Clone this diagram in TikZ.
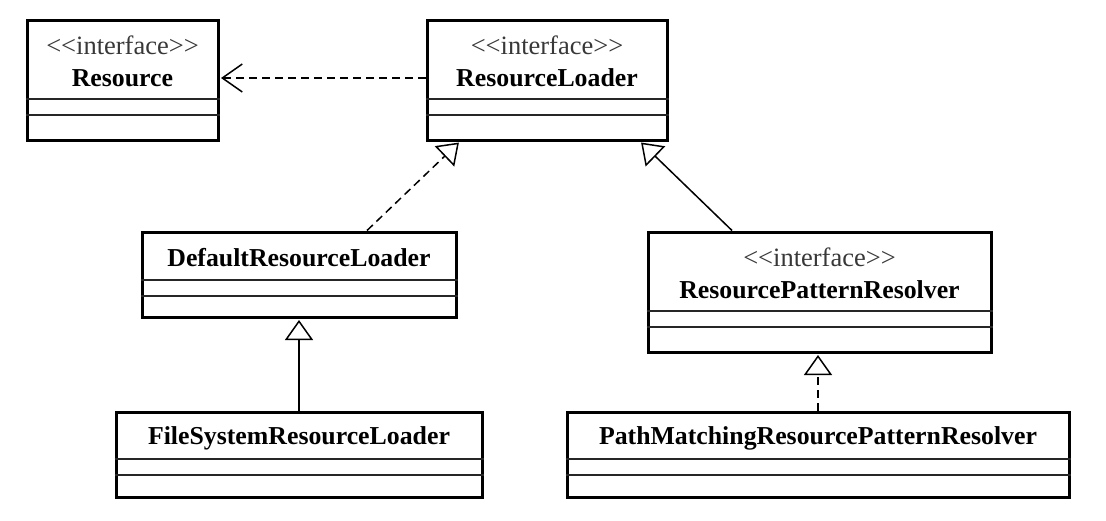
\documentclass[tikz,border=0pt]{standalone}
\usepackage{fontspec}
\setmainfont{Liberation Serif}
\usetikzlibrary{arrows.meta}
\begin{document}
\begin{tikzpicture}[x=1pt,y=-1pt,
  classbox/.style={draw, line width=3pt, rectangle, inner sep=0pt},
  divider/.style={line width=1.3pt, draw=black!85},
  stereo/.style={inner sep=0pt, text=black!78, font=\fontsize{26.5}{28}\selectfont},
  cname/.style={inner sep=0pt, font=\fontsize{25.8}{27}\selectfont\bfseries},
  conn/.style={line width=1.5pt},
  dashline/.style={dash pattern=on 8pt off 5pt},
  realize/.style={conn, -{Triangle[open, length=20pt, width=28pt]}, shorten >=1.5pt},
  depend/.style={conn, dashline, -{Straight Barb[length=20pt, width=28pt]}, shorten >=1.5pt}]
\useasboundingbox (0,0) rectangle (1106,520);

% Resource
\node[classbox, minimum width=191pt, minimum height=120pt] (res) at (122.5,80) {};
\node[stereo] (res-s) at (122.5,45) {<\kern0pt<interface>\kern0pt>};
\node[cname] (res-n) at (122.5,78) {Resource};
\draw[divider] (res.west |- 0,99) -- (res.east |- 0,99);
\draw[divider] (res.west |- 0,115) -- (res.east |- 0,115);

% ResourceLoader
\node[classbox, minimum width=240pt, minimum height=120pt] (rl) at (547,80) {};
\node[stereo] (rl-s) at (547,45) {<\kern0pt<interface>\kern0pt>};
\node[cname] (rl-n) at (547,78) {ResourceLoader};
\draw[divider] (rl.west |- 0,99) -- (rl.east |- 0,99);
\draw[divider] (rl.west |- 0,115) -- (rl.east |- 0,115);

% DefaultResourceLoader
\node[classbox, minimum width=314pt, minimum height=85pt] (drl) at (299,274.5) {};
\node[cname] (drl-n) at (299,258) {DefaultResourceLoader};
\draw[divider] (drl.west |- 0,280) -- (drl.east |- 0,280);
\draw[divider] (drl.west |- 0,296) -- (drl.east |- 0,296);

% FileSystemResourceLoader
\node[classbox, minimum width=366pt, minimum height=85pt] (fsrl) at (299,454.5) {};
\node[cname] (fsrl-n) at (299,438) {FileSystemResourceLoader};
\draw[divider] (fsrl.west |- 0,459) -- (fsrl.east |- 0,459);
\draw[divider] (fsrl.west |- 0,475) -- (fsrl.east |- 0,475);

% ResourcePatternResolver
\node[classbox, minimum width=343pt, minimum height=120pt] (rpr) at (819.5,292) {};
\node[stereo] (rpr-s) at (819.5,257) {<\kern0pt<interface>\kern0pt>};
\node[cname] (rpr-n) at (819.5,290) {ResourcePatternResolver};
\draw[divider] (rpr.west |- 0,311) -- (rpr.east |- 0,311);
\draw[divider] (rpr.west |- 0,327) -- (rpr.east |- 0,327);

% PathMatchingResourcePatternResolver
\node[classbox, minimum width=502pt, minimum height=85pt] (pm) at (818,454.5) {};
\node[cname] (pm-n) at (818,438) {PathMatchingResourcePatternResolver};
\draw[divider] (pm.west |- 0,459) -- (pm.east |- 0,459);
\draw[divider] (pm.west |- 0,475) -- (pm.east |- 0,475);

% connectors
\draw[depend] (rl.west |- 0,78) -- (res.east |- 0,78);
\draw[realize, dashline] (drl.north -| 367,0) -- (rl.south -| 460,0);
\draw[realize] (rpr.north -| 732,0) -- (rl.south -| 640,0);
\draw[realize] (fsrl.north -| 299,0) -- (drl.south -| 299,0);
\draw[realize, dashline] (pm.north -| 818,0) -- (rpr.south -| 818,0);
\end{tikzpicture}
\end{document}
